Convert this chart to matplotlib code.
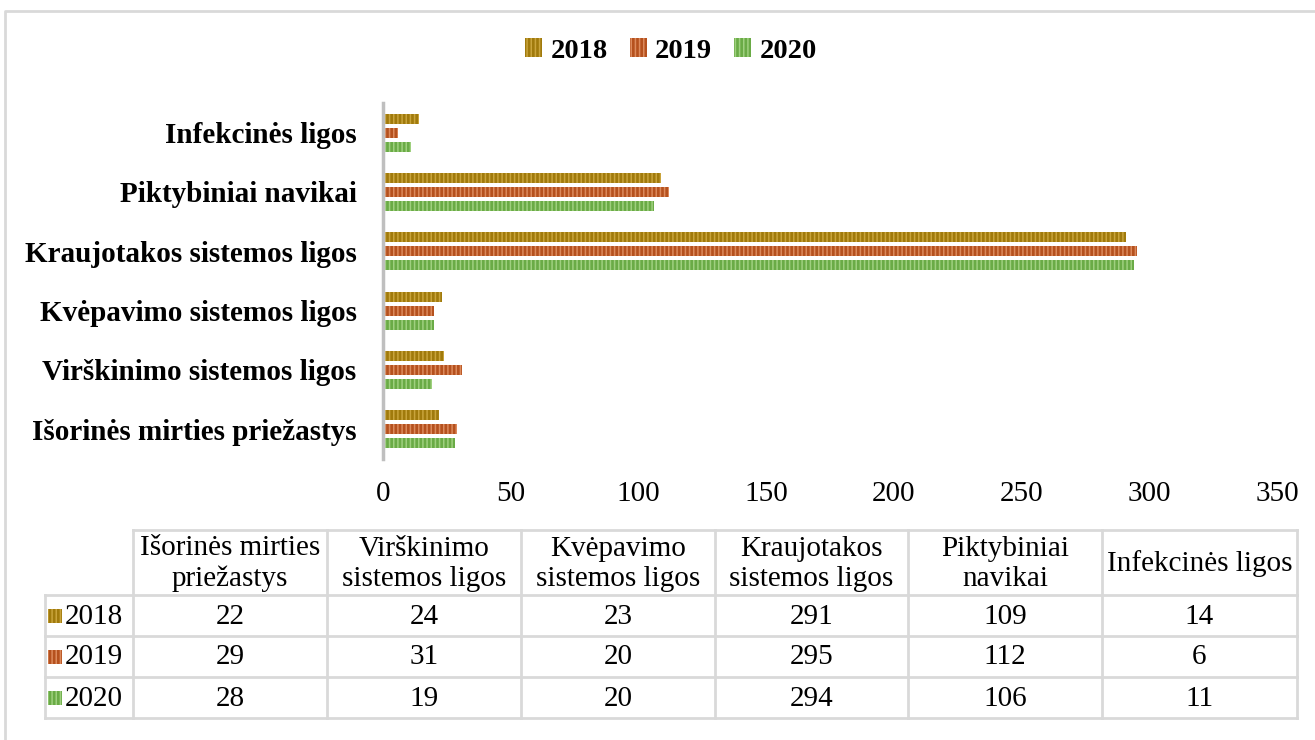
import numpy as np
import matplotlib
matplotlib.use("Agg")
import matplotlib.pyplot as plt
from matplotlib.patches import Rectangle

# data
categories = ["Išorinės mirties priežastys", "Virškinimo sistemos ligos",
              "Kvėpavimo sistemos ligos", "Kraujotakos sistemos ligos",
              "Piktybiniai navikai", "Infekcinės ligos"]
table_headers = ["Išorinės mirties\npriežastys", "Virškinimo\nsistemos ligos",
                 "Kvėpavimo\nsistemos ligos", "Kraujotakos\nsistemos ligos",
                 "Piktybiniai\nnavikai", "Infekcinės ligos"]
years = ["2018", "2019", "2020"]
v2018 = [22, 24, 23, 291, 109, 14]
v2019 = [29, 31, 20, 295, 112, 6]
v2020 = [28, 19, 20, 294, 106, 11]
series = [v2018, v2019, v2020]
xticks = [0, 50, 100, 150, 200, 250, 300, 350]

face = ["#a07a0c", "#b5511e", "#6aab46"]
stripe = ["#c9a43c", "#dc8a5c", "#9fd07f"]

plt.rcParams['font.family'] = ['Liberation Serif', 'DejaVu Serif']
plt.rcParams['hatch.linewidth'] = 1.1

W, H = 1315, 740
fig = plt.figure(figsize=(W / 100, H / 100), dpi=100)

# overlay axes in pixel coords for border and table
ov = fig.add_axes([0, 0, 1, 1])
ov.set_xlim(0, W)
ov.set_ylim(H, 0)
ov.axis("off")
ov.plot([5, 5, W], [H, 11, 11], color="#d9d9d9", lw=2)

ax = fig.add_axes([383 / W, 1 - 459 / H, (1277 - 383) / W, (459 - 103) / H])
y = np.arange(len(categories))
off = [0.236, 0.0, -0.236]
for i in range(3):
    ax.barh(y + off[i], series[i], height=0.165, color=face[i],
            edgecolor=stripe[i], hatch="||||", linewidth=0, label=years[i])
ax.set_xlim(0, 350)
ax.set_ylim(-0.5, len(categories) - 0.5)
ax.set_xticks(xticks)
ax.set_xticklabels([str(t) for t in xticks], fontsize=21)
ax.set_yticks(y)
ax.set_yticklabels(categories, fontsize=21, fontweight="bold")
ax.tick_params(length=0, axis="x", pad=16)
ax.tick_params(length=0, axis="y", pad=19)
for s in ["top", "right", "bottom"]:
    ax.spines[s].set_visible(False)
ax.spines["left"].set_color("#bfbfbf")
ax.spines["left"].set_linewidth(2.5)

leg = fig.legend(loc="center", bbox_to_anchor=(671 / W, 1 - 51 / H), ncol=3,
                 frameon=False, prop={"size": 20.5, "weight": "bold"},
                 handlelength=0.6, handleheight=0.6, handletextpad=0.3,
                 columnspacing=0.75)

# table
col_x = [45, 133, 327, 521, 715, 908, 1102, 1297]
row_y = [530, 595, 636, 677, 718]
lc = "#d9d9d9"
ov.plot([col_x[1], col_x[-1]], [row_y[0], row_y[0]], color=lc, lw=2)
for yy in row_y[1:]:
    ov.plot([col_x[0], col_x[-1]], [yy, yy], color=lc, lw=2)
for j, xx in enumerate(col_x):
    top = row_y[1] if j == 0 else row_y[0]
    ov.plot([xx, xx], [top, row_y[-1]], color=lc, lw=2)

for j, h in enumerate(table_headers):
    cx = (col_x[j + 1] + col_x[j + 2]) / 2
    ov.text(cx, (row_y[0] + row_y[1]) / 2 + 1, h, ha="center", va="center",
            fontsize=21, linespacing=1.2)
for i in range(3):
    cy = (row_y[i + 1] + row_y[i + 2]) / 2
    ov.add_patch(Rectangle((48, cy - 7), 14, 14, facecolor=face[i],
                           edgecolor=stripe[i], hatch="||||", linewidth=0))
    ov.text(65, cy + 1, years[i], ha="left", va="center", fontsize=21)
    for j, v in enumerate(series[i]):
        cx = (col_x[j + 1] + col_x[j + 2]) / 2
        ov.text(cx, cy + 1, str(v), ha="center", va="center", fontsize=21)

fig.savefig("out.png", dpi=100)
